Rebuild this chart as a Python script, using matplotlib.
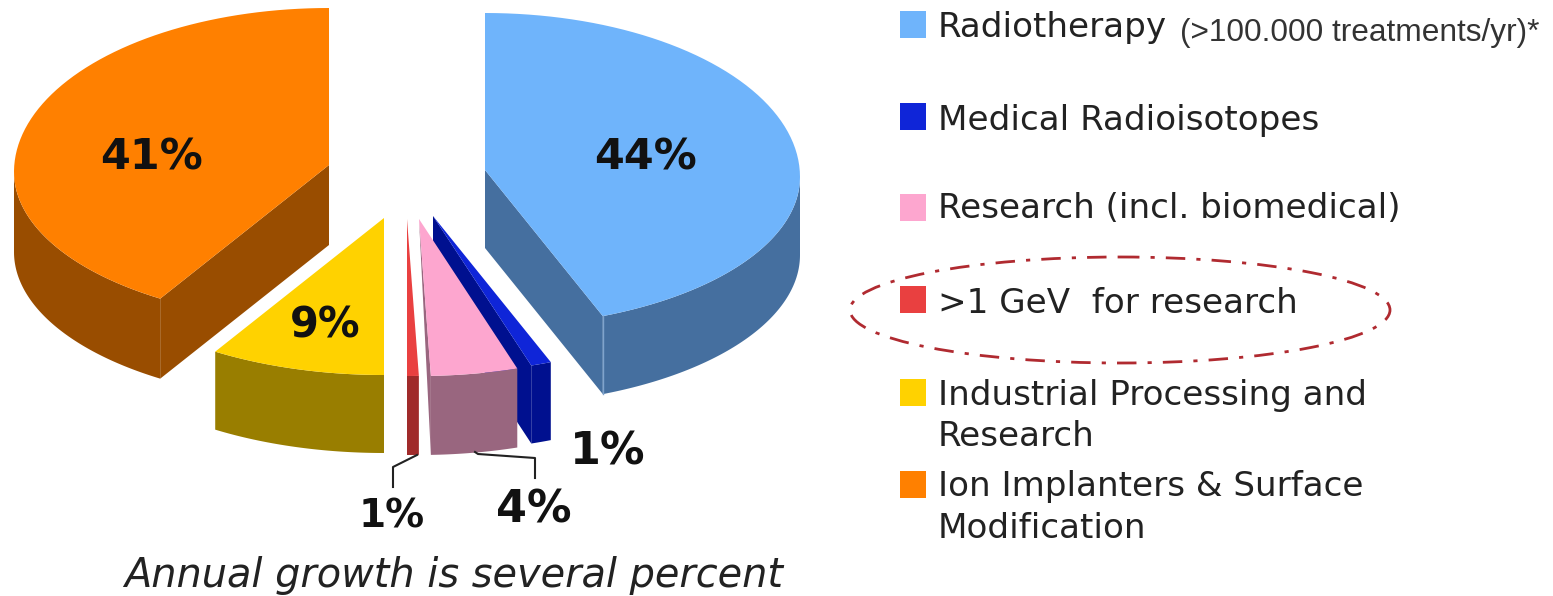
import numpy as np
import matplotlib
matplotlib.use("Agg")
import matplotlib.pyplot as plt
from matplotlib.patches import Ellipse, Rectangle

# share of each slice, clockwise from 12 o'clock
categories = ["Radiotherapy", "Medical Radioisotopes", "Research (incl. biomedical)",
              ">1 GeV  for research", "Industrial Processing and\nResearch",
              "Ion Implanters & Surface\nModification"]
shares = [43.9, 1.05, 4.45, 0.6, 9.0, 41.0]
pct_labels = ["44%", "1%", "4%", "1%", "9%", "41%"]

top_colors = ["#6FB4FB", "#0F25D8", "#FDA6CF", "#E94040", "#FFD200", "#FF8000"]
wall_colors = ["#456F9F", "#00108F", "#99667F", "#A02A2A", "#997E00", "#994D00"]

# where the pie centre of each exploded slice ends up, and wall height (pixels)
apex_x = [485, 433, 419, 407, 384, 329]
apex_y = [170, 216, 219, 219, 218, 165]
depth = [78, 78, 79, 79, 78, 80]
RX, RY = 315, 157
WIDE_DROP = 7  # perspective: the widest point sits a bit below the pie centre

# label position and font size per slice
label_x = [645, 608, 534, 392, 325, 152]
label_y = [157, 452, 510, 516, 326, 157]
label_size = [31, 32, 32, 28, 30, 31]

legend_y = [24, 116, 207, 299, 392, 484]
# baseline of each legend text line
text_base = [[37], [130], [218], [313], [405, 446], [496, 538]]


def arc(cx, cy, a0, a1, n=80):
    t = np.radians(np.linspace(a0, a1, n))
    c = np.cos(t)
    up = RY + WIDE_DROP
    down = RY - WIDE_DROP
    y = cy + WIDE_DROP - np.where(c > 0, up, down) * c
    return cx + RX * np.sin(t), y


fig = plt.figure(figsize=(15.53, 5.96), dpi=100)
ax = fig.add_axes([0, 0, 1, 1])
ax.set_xlim(0, 1553)
ax.set_ylim(596, 0)
ax.axis("off")

edges = np.concatenate([[0], np.cumsum(shares)]) * 3.6

# blue goes first so the pink slice sits on top of it
for i in [0, 5, 4, 1, 2, 3]:
    a0, a1 = edges[i], edges[i + 1]
    cx, cy, d = apex_x[i], apex_y[i], depth[i]

    # radial wall on the side facing the viewer
    if i in (0, 1):
        ox, oy = arc(cx, cy, a1, a1, 1)
        ax.fill([cx, ox[0], ox[0], cx], [cy, oy[0], oy[0] + d, cy + d],
                color=wall_colors[i], lw=0)
    if i == 5:
        ox, oy = arc(cx, cy, a0, a0, 1)
        ax.fill([cx, ox[0], ox[0], cx], [cy, oy[0], oy[0] + d, cy + d],
                color=wall_colors[i], lw=0)
    if i == 2:
        # thin sliver on the left of the pink slice
        ox, oy = arc(cx, cy, a1, a1, 1)
        ax.fill([cx, ox[0], ox[0]], [cy, oy[0], oy[0] + d],
                color=wall_colors[i], lw=0)

    # outer wall, only the front half of the ellipse shows
    w0, w1 = max(a0, 90), min(a1, 270)
    wx, wy = arc(cx, cy, w0, w1)
    ax.fill(np.r_[wx, wx[::-1]], np.r_[wy, wy[::-1] + d],
            color=wall_colors[i], lw=0)

    # light seam where the two walls of the big blue slice meet
    if i == 0:
        ox, oy = arc(cx, cy, a1, a1, 1)
        ax.plot([ox[0], ox[0]], [oy[0], oy[0] + d], color="#7FA3CC", lw=1)

    # top face
    tx, ty = arc(cx, cy, a0, a1)
    ax.fill(np.r_[cx, tx], np.r_[cy, ty], color=top_colors[i], lw=0)

for i in range(len(shares)):
    ax.text(label_x[i], label_y[i], pct_labels[i], fontsize=label_size[i],
            fontweight="bold", color="#111111", ha="center", va="center")

# leader lines to the small labels
leader1_x, leader1_y = [417, 393, 393], [455, 467, 487]
leader2_x, leader2_y = [475, 478, 535, 535], [452, 454, 458, 478]
ax.plot(leader1_x, leader1_y, color="#222222", lw=1.5)
ax.plot(leader2_x, leader2_y, color="#222222", lw=1.5)

ax.text(454, 587, "Annual growth is several percent", fontsize=28.7, style="italic",
        color="#222222", ha="center", va="baseline")

# legend
for i in range(len(categories)):
    ax.add_patch(Rectangle((900, legend_y[i] - 13), 26, 27, color=top_colors[i], lw=0))
    for line, base in zip(categories[i].split("\n"), text_base[i]):
        ax.text(938, base, line, fontsize=24.6, color="#222222",
                ha="left", va="baseline")

ax.text(1180, 41, "(>100.000 treatments/yr)*", fontsize=22.8, color="#333333",
        family="Liberation Sans", ha="left", va="baseline")

ax.add_patch(Ellipse((1120, 310), 540, 106, fill=False, edgecolor="#B02A30", lw=2,
                     linestyle=(0, (7, 4, 1.5, 4))))

fig.savefig("out.png", dpi=100)
